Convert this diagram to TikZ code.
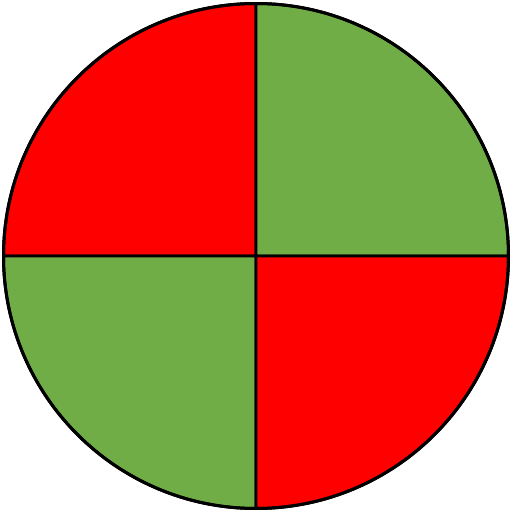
\documentclass[tikz,border=0pt]{standalone}
\usepackage{xcolor}
\usepackage{tikz}
\definecolor{redclr}{RGB}{255,0,0}
\definecolor{greenclr}{RGB}{112,173,71}
\tikzset{
  quad/.style={draw=black,line width=1.7pt,line join=round},
  redq/.style={quad,fill=redclr},
  greenq/.style={quad,fill=greenclr},
}

\begin{document}
\begin{tikzpicture}
\useasboundingbox (0,0) rectangle (10.24,10.24);
\coordinate (o) at (5.12,5.12);
\def\rad{5.05}

% Quadrants (start angle, colour)
\foreach \a/\s in {90/redq,0/greenq,180/greenq,270/redq}
  \draw[\s] (o) -- ++(\a:\rad) arc[start angle=\a,delta angle=90,radius=\rad] -- cycle;

% Outline
\draw[quad] (o) circle[radius=\rad];
\end{tikzpicture}
\end{document}
